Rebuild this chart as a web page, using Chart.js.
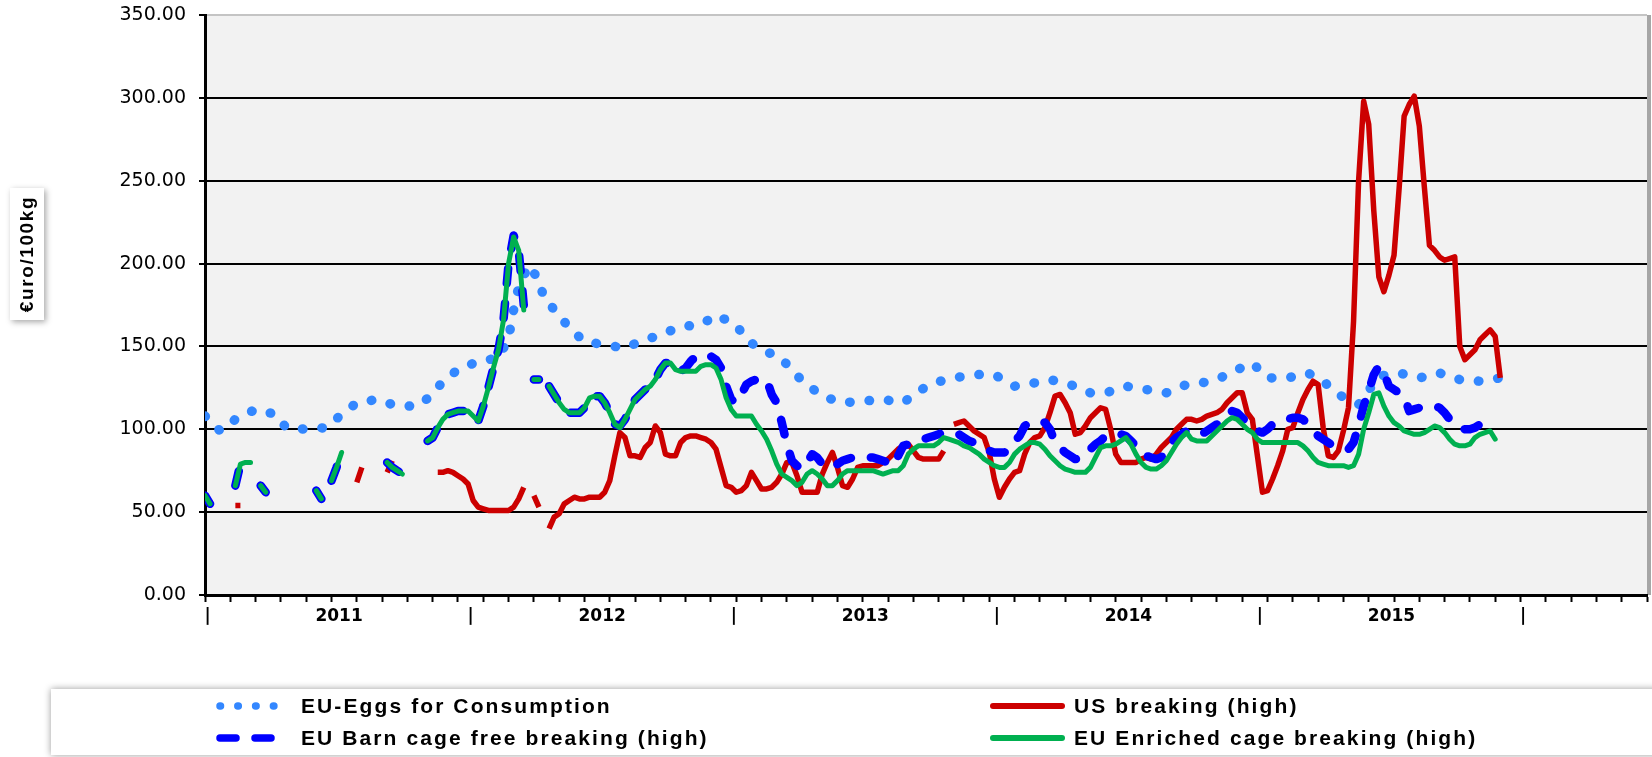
<!DOCTYPE html>
<html>
<head>
<meta charset="utf-8">
<title>Egg prices EU / US</title>
<script src="https://cdn.jsdelivr.net/npm/chart.js@4.4.1/dist/chart.umd.min.js"></script>
<style>
  html, body { margin: 0; padding: 0; background: #fff; }
  #wrap { width: 1652px; height: 757px; }
</style>
</head>
<body>
<div id="wrap"><canvas id="eggChart" width="1652" height="757"></canvas></div>
<script>
// weekly prices, week 0 = first week of 2011, [week, euro/100kg]
const years = ['2011', '2012', '2013', '2014', '2015'];
const weeksPerYear = 52;
const axisWeeks = 285;
const yTickStep = 50;
const yMax = 350;

const eggsConsumption = [
  [0,108],[3,99],[6,106],[10,112],[14,109],[16,101],[20,100],[24,101],[27,109],[30,116],
  [34,118],[38,114],[42,114],[45,121],[47,129],[50,136],[54,141],[58,143],[60,155],[61,172],
  [62,186],[64,199],[66,190],[67,179],[70,169],[72,161],[75,153],[79,151],[83,149],[86,153],
  [90,157],[94,162],[98,163],[101,169],[105,163],[107,154],[110,148],[114,143],[116,135],[119,127],
  [122,120],[126,116],[130,117],[134,118],[138,116],[141,123],[144,128],[148,131],[152,133],[156,133],
  [160,126],[164,128],[167,130],[171,127],[175,122],[178,122],[182,126],[186,124],[190,122],[194,127],
  [197,128],[200,130],[204,136],[207,140],[210,131],[214,131],[218,134],[221,129],[224,121],[228,115],
  [232,132],[236,134],[240,131],[244,134],[248,130],[252,129],[256,131]
];

const usBreaking = [
  [6,54],[7,54],
  [30,68],[31,77],
  [36,74],[37,81],
  [46,74],[47,74],[48,75],[49,74],[50,72],[51,70],[52,67],[53,57],[54,53],[55,52],[56,51],[57,51],
  [58,51],[59,51],[60,51],[61,53],[62,58],[63,65],
  [65,60],[66,53],
  [68,40],[69,47],[70,49],[71,55],[72,57],[73,59],[74,58],[75,58],[76,59],[77,59],[78,59],[79,62],
  [80,69],[81,84],[82,98],[83,95],[84,84],[85,84],[86,83],[87,89],[88,92],[89,102],[90,98],[91,85],
  [92,84],[93,84],[94,92],[95,95],[96,96],[97,96],[98,95],[99,94],[100,92],[101,88],[102,77],[103,66],
  [104,65],[105,62],[106,63],[107,66],[108,74],[109,69],[110,64],[111,64],[112,65],[113,68],[114,73],
  [115,80],[116,80],[117,72],[118,62],[119,62],[120,62],[121,62],[122,73],[123,80],[124,86],[125,77],
  [126,66],[127,65],[128,70],[129,77],[130,78],[131,78],[132,78],[133,78],[134,80],[135,82],[136,85],
  [137,88],[138,90],[139,91],[140,87],[141,83],[142,82],[143,82],[144,82],[145,82],[146,87],
  [148,103],[149,104],[150,105],[151,102],[152,99],[153,97],[154,95],[155,86],[156,70],[157,59],
  [158,65],[159,70],[160,74],[161,75],[162,85],[163,92],[164,95],[165,96],[166,101],[167,110],
  [168,120],[169,121],[170,116],[171,110],[172,97],[173,98],[174,102],[175,107],[176,110],[177,113],
  [178,112],[179,100],[180,85],[181,80],[182,80],[183,80],[184,80],[185,82],[186,83],[187,82],
  [188,85],[189,89],[190,92],[191,95],[192,100],[193,103],[194,106],[195,106],[196,105],[197,106],
  [198,108],[199,109],[200,110],[201,112],[202,116],[203,119],[204,122],[205,122],[206,110],[207,106],
  [208,84],[209,62],[210,63],[211,70],[212,78],[213,87],[214,100],[215,101],[216,110],[217,118],
  [218,124],[219,129],[220,127],[221,101],[222,84],[223,83],[224,87],[225,99],[226,113],[227,165],
  [228,250],[229,298],[230,284],[231,232],[232,192],[233,183],[234,193],[235,205],[236,245],[237,289],
  [238,296],[239,301],[240,283],[241,246],[242,211],[243,208],[244,204],[245,202],[246,203],[247,204],
  [248,150],[249,142],[250,145],[251,148],[252,154],[253,157],[254,160],[255,156],[256,131]
];

const euBarn = [
  [0,60],[1,55],
  [6,66],[7,79],[8,80],[9,81],
  [11,66],[12,62],
  [22,63],[23,58],
  [25,69],[26,77],[27,86],
  [36,80],[37,77],[38,75],[39,73],
  [44,93],[45,95],[46,101],[47,106],[48,109],[49,110],[50,111],[51,111],[52,111],[53,108],[54,105],
  [55,114],[56,125],[57,137],[58,148],[59,166],[60,200],[61,217],[62,208],[63,175],
  [65,130],[66,130],
  [68,126],[69,121],[70,116],[71,112],[72,110],[73,110],[74,110],[75,113],[76,119],[77,120],[78,120],
  [79,116],[80,110],[81,103],[82,102],[83,106],[84,112],[85,118],[86,121],[87,124],[88,126],[89,130],
  [90,136],[91,140],[92,140],[93,136],[94,135],[95,137],[96,141],[97,144],[98,145],[99,144],[100,144],
  [101,142],[102,137],[103,126],[104,118],[105,116],[106,121],[107,127],[108,129],[109,130],[110,130],
  [111,130],[112,121],[113,116],[114,104],[115,91],[116,81],[117,78],[118,76],[119,80],[120,85],
  [121,83],[122,79],[123,77],[124,77],[125,79],[126,81],[127,82],[128,83],[129,83],[130,83],[131,83],
  [132,83],[133,82],[134,81],[135,80],[136,78],[137,84],[138,90],[139,91],[140,92],[141,93],[142,94],
  [143,95],[144,96],[145,97],[146,98],[147,98],[148,98],[149,97],[150,95],[151,93],[152,92],[153,90],
  [154,89],[155,87],[156,86],[157,86],[158,86],[159,88],[160,93],[161,96],[162,102],[163,104],
  [164,105],[165,105],[166,104],[167,100],[168,92],[169,89],[170,86],[171,84],[172,82],[173,82],
  [174,85],[175,88],[176,91],[177,93],[178,96],[179,97],[180,97],[181,97],[182,96],[183,93],[184,90],
  [185,86],[186,84],[187,83],[188,82],[189,83],[190,88],[191,92],[192,95],[193,97],[194,99],[195,98],
  [196,97],[197,97],[198,99],[199,101],[200,103],[201,105],[202,108],[203,111],[204,110],[205,107],
  [206,104],[207,101],[208,99],[209,98],[210,100],[211,103],[212,104],[213,105],[214,106],[215,107],
  [216,107],[217,106],[218,103],[219,100],[220,96],[221,94],[222,92],[223,90],[224,89],[225,88],
  [226,88],[227,92],[228,102],[229,114],[230,123],[231,133],[232,138],[233,134],[234,126],[235,124],
  [236,122],[237,120],[238,111],[239,112],[240,113],[241,114],[242,114],[243,114],[244,113],[245,110],
  [246,106],[247,103],[248,101],[249,100],[250,100],[251,101],[252,103],[253,104],[254,105],[255,105]
];

const euEnriched = [
  [0,60],[1,55],
  [6,66],[7,79],[8,80],[9,80],
  [11,66],[12,62],
  [22,63],[23,58],
  [25,69],[26,77],[27,86],
  [36,80],[37,77],[38,75],[39,73],
  [44,93],[45,95],[46,101],[47,106],[48,109],[49,110],[50,111],[51,111],[52,111],[53,108],[54,105],
  [55,114],[56,125],[57,137],[58,148],[59,166],[60,200],[61,216],[62,208],[63,172],
  [65,130],[66,130],
  [68,126],[69,121],[70,116],[71,112],[72,110],[73,110],[74,110],[75,113],[76,119],[77,120],[78,120],
  [79,116],[80,110],[81,103],[82,101],[83,106],[84,112],[85,118],[86,121],[87,124],[88,126],[89,130],
  [90,136],[91,140],[92,140],[93,136],[94,135],[95,135],[96,135],[97,135],[98,138],[99,139],[100,139],
  [101,137],[102,130],[103,119],[104,112],[105,108],[106,108],[107,108],[108,108],[109,103],[110,99],
  [111,94],[112,87],[113,79],[114,73],[115,71],[116,69],[117,66],[118,68],[119,73],[120,75],[121,73],
  [122,70],[123,66],[124,66],[125,69],[126,73],[127,75],[128,75],[129,75],[130,75],[131,75],[132,75],
  [133,74],[134,73],[135,74],[136,75],[137,75],[138,78],[139,85],[140,88],[141,90],[142,90],[143,90],
  [144,90],[145,92],[146,95],[147,94],[148,93],[149,92],[150,90],[151,89],[152,87],[153,85],[154,82],
  [155,80],[156,78],[157,77],[158,77],[159,80],[160,85],[161,88],[162,90],[163,92],[164,92],[165,91],
  [166,88],[167,84],[168,81],[169,78],[170,76],[171,75],[172,74],[173,74],[174,74],[175,77],[176,83],
  [177,89],[178,90],[179,90],[180,91],[181,93],[182,95],[183,91],[184,85],[185,80],[186,77],[187,76],
  [188,76],[189,78],[190,81],[191,86],[192,91],[193,95],[194,98],[195,94],[196,93],[197,93],[198,93],
  [199,96],[200,99],[201,102],[202,105],[203,107],[204,106],[205,103],[206,100],[207,98],[208,94],
  [209,92],[210,92],[211,92],[212,92],[213,92],[214,92],[215,92],[216,92],[217,90],[218,87],[219,83],
  [220,80],[221,79],[222,78],[223,78],[224,78],[225,78],[226,77],[227,78],[228,85],[229,100],[230,110],
  [231,121],[232,122],[233,114],[234,108],[235,104],[236,102],[237,99],[238,98],[239,97],[240,97],
  [241,98],[242,100],[243,102],[244,101],[245,98],[246,94],[247,91],[248,90],[249,90],[250,91],
  [251,95],[252,97],[253,98],[254,99],[255,94]
];

const toPoints = (rows) => rows.map(([x, y]) => ({ x, y }));

// plot background, frame shadow, y title box
const plotDecor = {
  id: 'plotDecor',
  beforeDraw(chart) {
    const { ctx, chartArea: a } = chart;
    ctx.save();
    ctx.fillStyle = '#f2f2f2';
    ctx.fillRect(a.left, a.top, a.right - a.left, a.bottom - a.top);
    ctx.fillStyle = '#a6a6a6';
    ctx.fillRect(a.right, a.top, 4, a.bottom - a.top);
    ctx.restore();
  },
  afterDraw(chart) {
    const { ctx } = chart;
    ctx.save();
    ctx.shadowColor = 'rgba(0,0,0,0.35)';
    ctx.shadowBlur = 6;
    ctx.shadowOffsetX = 2;
    ctx.shadowOffsetY = 2;
    ctx.fillStyle = '#fff';
    ctx.fillRect(10, 188, 34, 132);
    ctx.restore();
    ctx.save();
    ctx.translate(28, 254);
    ctx.rotate(-Math.PI / 2);
    ctx.font = 'bold 19px "Liberation Sans", Arial, sans-serif';
    ctx.letterSpacing = '1.6px';
    ctx.fillStyle = '#000';
    ctx.textAlign = 'center';
    ctx.textBaseline = 'middle';
    ctx.fillText('€uro/100kg', 0, 0);
    ctx.restore();
  }
};

// two-column legend in a shadowed box under the axis
const boxLegend = {
  id: 'boxLegend',
  afterDraw(chart) {
    const { ctx } = chart;
    const slots = [
      { ds: 0, x: 217, y: 706, w: 7.5, dash: [0.5, 17.3] },
      { ds: 1, x: 990, y: 706, w: 6, dash: [] },
      { ds: 2, x: 217, y: 738, w: 7.5, dash: [16, 19] },
      { ds: 3, x: 990, y: 738, w: 6, dash: [] }
    ];
    ctx.save();
    ctx.shadowColor = 'rgba(0,0,0,0.4)';
    ctx.shadowBlur = 7;
    ctx.fillStyle = '#fff';
    ctx.fillRect(51, 689, 1610, 66);
    ctx.restore();

    slots.forEach((s) => {
      const ds = chart.data.datasets[s.ds];
      ctx.save();
      ctx.strokeStyle = ds.borderColor;
      ctx.lineWidth = s.w;
      ctx.lineCap = 'round';
      ctx.setLineDash(s.dash);
      ctx.beginPath();
      ctx.moveTo(s.x + 3, s.y);
      ctx.lineTo(s.x + 72, s.y);
      ctx.stroke();
      ctx.setLineDash([]);
      ctx.font = 'bold 21px "Liberation Sans", Arial, sans-serif';
      ctx.letterSpacing = '2.1px';
      ctx.fillStyle = '#000';
      ctx.textBaseline = 'middle';
      ctx.fillText(ds.label, s.x + 84, s.y + 1);
      ctx.restore();
    });
  }
};

new Chart(document.getElementById('eggChart'), {
  type: 'line',
  data: {
    datasets: [
      {
        label: 'EU-Eggs for Consumption',
        data: toPoints(eggsConsumption),
        borderColor: '#3387ff',
        borderWidth: 9.5,
        borderDash: [0.5, 19],
        borderCapStyle: 'round',
        order: 4
      },
      {
        label: 'US breaking (high)',
        data: toPoints(usBreaking),
        borderColor: '#cc0000',
        borderWidth: 5.5,
        spanGaps: 1.5,
        order: 3
      },
      {
        label: 'EU Barn cage free breaking (high)',
        data: toPoints(euBarn),
        borderColor: '#0000ff',
        borderWidth: 8.5,
        borderDash: [15, 20],
        borderCapStyle: 'round',
        spanGaps: 1.5,
        order: 2
      },
      {
        label: 'EU Enriched cage breaking (high)',
        data: toPoints(euEnriched),
        borderColor: '#00b050',
        borderWidth: 5,
        borderCapStyle: 'round',
        spanGaps: 1.5,
        order: 1
      }
    ]
  },
  options: {
    responsive: false,
    animation: false,
    events: [],
    layout: { padding: { left: 0, top: 15, right: 5, bottom: 122 } },
    elements: {
      point: { radius: 0 },
      line: { tension: 0, borderJoinStyle: 'round', fill: false }
    },
    plugins: {
      legend: { display: false },
      tooltip: { enabled: false },
      title: { display: false }
    },
    scales: {
      x: {
        type: 'linear',
        min: 0,
        max: axisWeeks,
        afterFit: (s) => { s.height = 40; },
        afterBuildTicks: (scale) => {
          const ticks = [];
          for (let w = 0; w <= axisWeeks; w += 5) ticks.push({ value: w });
          years.forEach((y, i) => {
            ticks.push({ value: i * weeksPerYear + 0.5 });
            ticks.push({ value: i * weeksPerYear + 26.5 });
          });
          ticks.push({ value: years.length * weeksPerYear + 0.5 });
          ticks.sort((a, b) => a.value - b.value);
          scale.ticks = ticks;
        },
        ticks: {
          autoSkip: false,
          maxRotation: 0,
          padding: 4,
          color: '#000',
          font: { family: '"DejaVu Sans", Verdana, sans-serif', size: 17, weight: 'bold' },
          callback: (v) => {
            if (v % 1 === 0) return '';
            const r = v % weeksPerYear;
            if (Math.abs(r - 0.5) < 0.01) return '|';
            return years[Math.floor(v / weeksPerYear)];
          }
        },
        grid: {
          drawOnChartArea: false,
          drawTicks: true,
          tickLength: 7,
          tickWidth: 2,
          tickColor: (c) => (c.tick && c.tick.value % 1 !== 0 ? 'rgba(0,0,0,0)' : '#000')
        },
        border: { display: true, color: '#000', width: 3 }
      },
      y: {
        min: 0,
        max: yMax,
        afterFit: (s) => {
          s.width = 205;
          s.paddingTop = 0;
          s.paddingBottom = 0;
        },
        ticks: {
          stepSize: yTickStep,
          padding: 13,
          color: '#000',
          font: { family: '"DejaVu Sans", Verdana, sans-serif', size: 19 },
          callback: (v) => v.toFixed(2)
        },
        grid: {
          color: (c) => (c.tick && c.tick.value === yMax ? '#c4c4c4' : '#000'),
          lineWidth: 2,
          tickLength: 6,
          tickColor: '#000',
          tickWidth: 2
        },
        border: { display: true, color: '#000', width: 3 }
      }
    }
  },
  plugins: [plotDecor, boxLegend]
});
</script>
</body>
</html>
